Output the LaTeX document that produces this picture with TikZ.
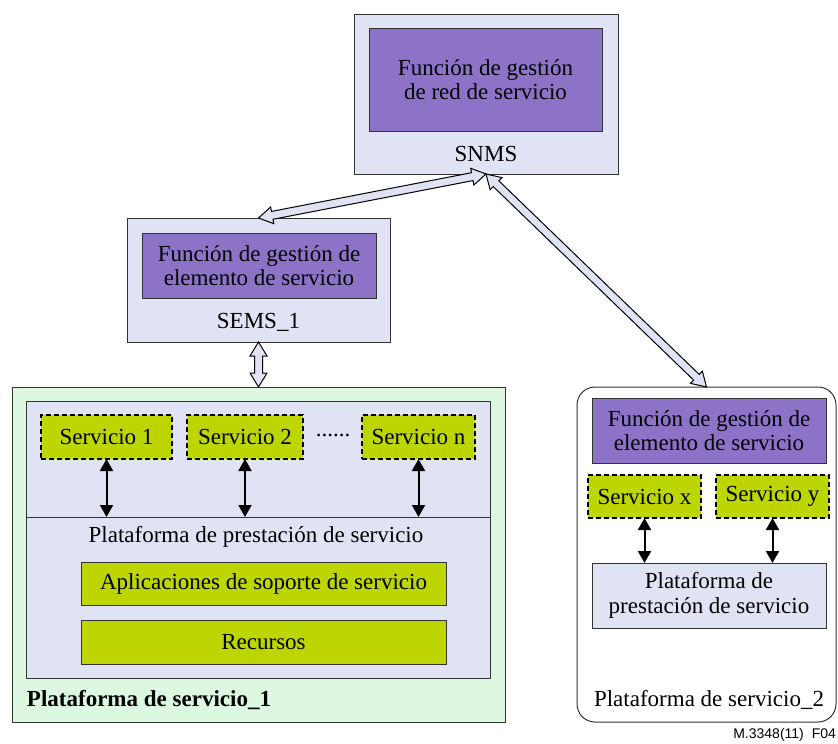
\documentclass[tikz,border=0pt]{standalone}
\usepackage{fontspec}
\setmainfont{Liberation Serif}
\setsansfont{Liberation Sans}
\usetikzlibrary{calc,arrows.meta}
\definecolor{lav}{HTML}{E0E3F3}
\definecolor{fpurple}{HTML}{8C73C8}
\definecolor{lime}{HTML}{BDD500}
\definecolor{mint}{HTML}{DDF8E1}
\definecolor{edge}{HTML}{333333}

% outlined double-headed block arrow between two points
\newcommand\fatarrow[2]{%
  \filldraw[fatarrow]
    (#1) -- ($(#1)!14pt!(#2)!8.5pt!90:(#2)$) -- ($(#1)!14pt!(#2)!4pt!90:(#2)$)
    -- ($(#2)!14pt!(#1)!4pt!-90:(#1)$) -- ($(#2)!14pt!(#1)!8.5pt!-90:(#1)$)
    -- (#2)
    -- ($(#2)!14pt!(#1)!8.5pt!90:(#1)$) -- ($(#2)!14pt!(#1)!4pt!90:(#1)$)
    -- ($(#1)!14pt!(#2)!4pt!-90:(#2)$) -- ($(#1)!14pt!(#2)!8.5pt!-90:(#2)$)
    -- cycle;}

\begin{document}
\begin{tikzpicture}[x=1pt,y=-1pt,
  font=\fontsize{23}{24.5}\selectfont,
  box/.style={draw=edge, line width=1pt, inner sep=0pt, outer sep=0pt, align=center},
  mgmt/.style={box, fill=lav},
  func/.style={box, fill=fpurple},
  svc/.style={box, fill=lime, dashed, dash pattern=on 5pt off 3pt, line width=1.3pt, draw=black},
  layer/.style={box, fill=lime},
  plain/.style={inner sep=0pt, outer sep=0pt, align=center},
  fatarrow/.style={fill=lav, draw=black, line width=1pt, line join=miter},
  link/.style={line width=2pt, {Triangle[length=12pt,width=13pt]}-{Triangle[length=12pt,width=13pt]}}
]
\useasboundingbox (0,0) rectangle (838,744);

% network management system
\node[mgmt, minimum width=264pt, minimum height=160pt] (snms) at (486,94) {};
\node[func, minimum width=233pt, minimum height=103pt] (snmsf) at (485.5,79.5)
  {Función de gestión\\de red de servicio};
\node[plain] (snmsl) at (486,154) {SNMS};

% element management system 1
\node[mgmt, minimum width=263pt, minimum height=124pt] (sems) at (258.5,280) {};
\node[func, minimum width=234pt, minimum height=65pt] (semsf) at (259,265.5)
  {Función de gestión de\\elemento de servicio};
\node[plain] (semsl) at (258.5,322) {SEMS\_1};

% service platform 1
\node[box, fill=mint, minimum width=493pt, minimum height=335pt] (plat1) at (258.5,554.5) {};
\node[box, fill=lav, minimum width=464pt, minimum height=116pt] (up) at (258,459) {};
\node[box, fill=lav, minimum width=464pt, minimum height=161pt] (low) at (258,597.5) {};
\node[svc, minimum width=131pt, minimum height=44pt] (s1) at (106.5,437) {Servicio 1};
\node[svc, minimum width=116pt, minimum height=44pt] (s2) at (245,437) {Servicio 2};
\node[plain] (dots) at (333,435) {......};
\node[svc, minimum width=113pt, minimum height=44pt] (sn) at (418.5,437) {Servicio n};
\node[plain] (sdp1) at (256,537) {Plataforma de prestación de servicio};
\node[layer, minimum width=365pt, minimum height=43pt] (apps) at (263.5,583.5)
  {Aplicaciones de soporte de servicio};
\node[layer, minimum width=365pt, minimum height=44pt] (res) at (263.5,642) {Recursos};
\node[plain, anchor=west] (p1l) at (27,700) {\bfseries Plataforma de servicio\_1};

% service platform 2
\node[box, fill=white, rounded corners=18pt, minimum width=259pt, minimum height=335pt] (plat2) at (706.5,554.5) {};
\node[func, minimum width=234pt, minimum height=65pt] (p2f) at (709,430.5)
  {Función de gestión de\\elemento de servicio};
\node[svc, minimum width=113pt, minimum height=43pt] (sx) at (644.5,496.5) {Servicio x};
\node[svc, minimum width=113pt, minimum height=43pt] (sy) at (772.5,496.5) {Servicio y};
\node[box, fill=lav, minimum width=234pt, minimum height=65pt] (sdp2) at (709,595.5)
  {Plataforma de\\prestación de servicio};
\node[plain] (p2l) at (709,700) {Plataforma de servicio\_2};

% figure code
\node[plain, anchor=east, font=\sffamily\fontsize{14}{16}\selectfont] (code) at (836,735) {M.3348(11)\hspace{8pt}F04};

% service to delivery platform links
\draw[link] (s1.south) -- (s1.south |- up.south);
\draw[link] (s2.south) -- (s2.south |- up.south);
\draw[link] (sn.south) -- (sn.south |- up.south);
\draw[link] (sx.south) -- (sx.south |- sdp2.north);
\draw[link] (sy.south) -- (sy.south |- sdp2.north);

% management interfaces
\fatarrow{sems.north}{snms.south}
\fatarrow{snms.south}{plat2.north}
\fatarrow{sems.south}{plat1.north}
\end{tikzpicture}
\end{document}
